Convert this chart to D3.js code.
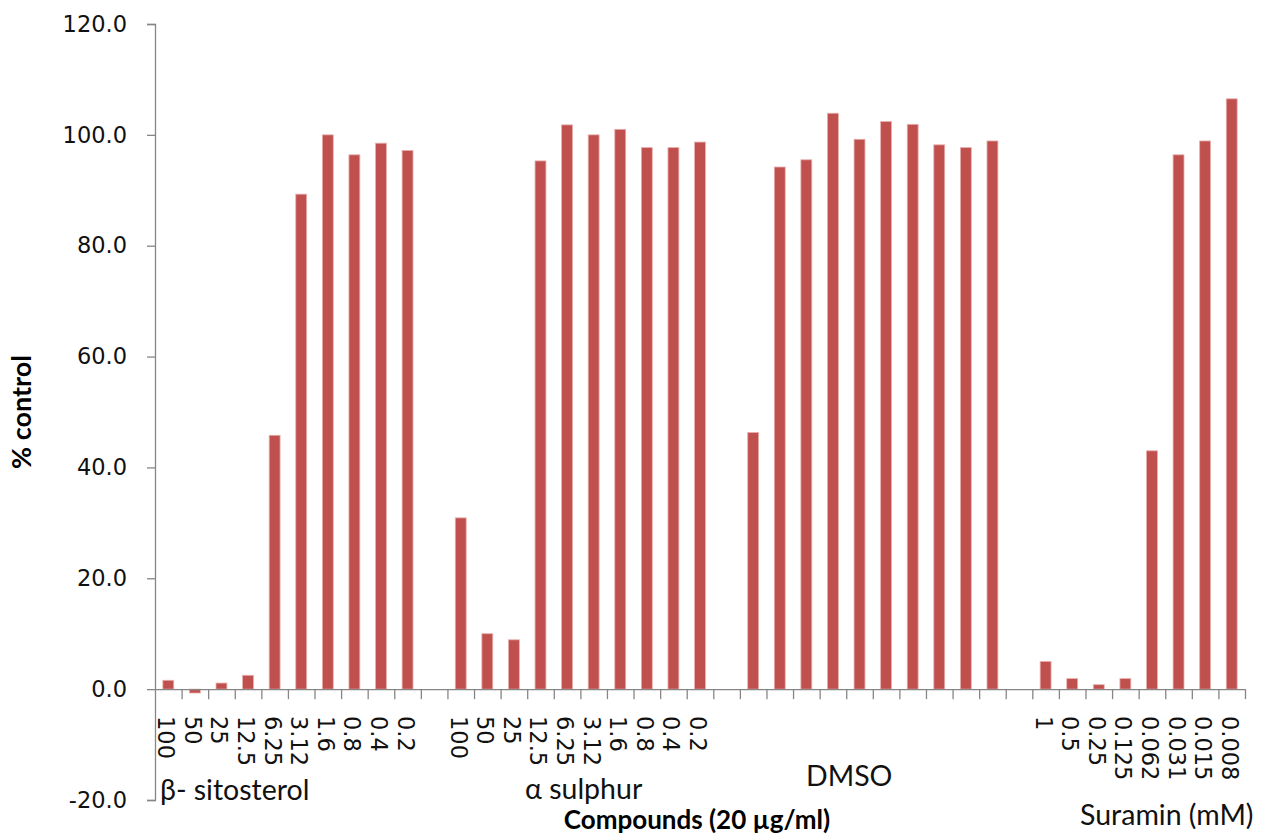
<!DOCTYPE html>
<html><head><meta charset="utf-8">
<script src="https://cdn.jsdelivr.net/npm/d3@7"></script>
<style>body{margin:0;background:#fff}svg{display:block}</style>
</head><body>
<svg id="c" width="1266" height="836"></svg>
<script>
const betaLabels = ["100","50","25","12.5","6.25","3.12","1.6","0.8","0.4","0.2"];
const betaValues = [1.6,-0.7,1.1,2.5,45.8,89.3,100.0,96.4,98.5,97.2];
const alphaLabels = ["100","50","25","12.5","6.25","3.12","1.6","0.8","0.4","0.2"];
const alphaValues = [30.9,10.0,8.9,95.3,101.8,100.0,101.0,97.7,97.7,98.7];
const dmsoLabels = ["","","","","","","","","",""];
const dmsoValues = [46.3,94.2,95.5,103.9,99.2,102.4,101.9,98.2,97.7,98.9];
const suraminLabels = ["1","0.5","0.25","0.125","0.062","0.031","0.015","0.008"];
const suraminValues = [5.0,1.9,0.8,1.9,43.0,96.4,98.9,106.5];
const groupNames = ["β- sitosterol","α sulphur","DMSO","Suramin (mM)"];
const yTicks = [-20,0,20,40,60,80,100,120];
const yTitle = "% control";
const xTitle = "Compounds (20 µg/ml)";

// build slots (one empty slot between groups)
const groups = [[betaLabels,betaValues],[alphaLabels,alphaValues],[dmsoLabels,dmsoValues],[suraminLabels,suraminValues]];
const slots = [];
groups.forEach((g,gi)=>{
  g[0].forEach((l,i)=>slots.push({id:slots.length,label:l,value:g[1][i],group:gi}));
  if(gi<groups.length-1) slots.push({id:slots.length,label:"",value:null,group:-1});
});

const svg = d3.select("#c");
const x = d3.scaleBand().domain(slots.map(d=>d.id)).range([155,1245]).paddingInner(0).paddingOuter(0);
const y = d3.scaleLinear().domain([-20,120]).range([800,24]);
const axisColor = "#868686";
const textColor = "#111";

// bars
const bw = x.bandwidth()*0.41;
svg.append("g").selectAll("rect").data(slots.filter(d=>d.value!==null)).join("rect")
  .attr("x",d=>x(d.id)+x.bandwidth()/2-bw/2)
  .attr("y",d=>y(Math.max(0,d.value)))
  .attr("width",bw)
  .attr("height",d=>Math.abs(y(d.value)-y(0)))
  .attr("fill","#C0504D")
  .attr("stroke","#E8AFAD").attr("stroke-width",0.8);

// y axis
const fmt = d=>d3.format(".1f")(d).replace("−","-");
const gy = svg.append("g").attr("transform","translate(155,0)")
  .call(d3.axisLeft(y).tickValues(yTicks).tickFormat(fmt).tickSize(8).tickPadding(20));
gy.select(".domain").attr("stroke",axisColor).attr("stroke-width",1.3);
gy.selectAll(".tick line").attr("stroke",axisColor).attr("stroke-width",1.3);
gy.selectAll(".tick text").attr("font-family","DejaVu Sans, Verdana, sans-serif").attr("font-size",22.5).attr("fill",textColor);

// x axis: line at 0 with ticks on slot boundaries
const xb = d3.scaleLinear().domain([0,slots.length]).range([155,1245]);
const gx = svg.append("g").attr("transform",`translate(0,${y(0)})`)
  .call(d3.axisBottom(xb).tickValues(d3.range(1,slots.length+1)).tickFormat("").tickSize(10).tickSizeOuter(0));
gx.select(".domain").attr("stroke",axisColor).attr("stroke-width",1.3);
gx.selectAll(".tick line").attr("stroke",axisColor).attr("stroke-width",1.3);

// rotated category labels
svg.append("g").selectAll("text").data(slots.filter(d=>d.label!=="")).join("text")
  .attr("transform",d=>`translate(${x(d.id)+x.bandwidth()/2-2},716) rotate(90)`)
  .attr("dominant-baseline","central")
  .attr("font-family","DejaVu Sans, Verdana, sans-serif").attr("font-size",22.5)
  .attr("fill",textColor).text(d=>d.label);

// group labels
const glPos = [[160,800],[525,799],[806,786],[1080,825]];
svg.append("g").selectAll("text").data(groupNames).join("text")
  .attr("x",(d,i)=>glPos[i][0]).attr("y",(d,i)=>glPos[i][1])
  .attr("font-family","Lato, Open Sans, sans-serif").attr("font-size",28.5)
  .attr("fill",textColor).text(d=>d);

// axis titles
svg.append("text").attr("x",697).attr("y",829).attr("text-anchor","middle")
  .attr("font-family","Lato, Open Sans, sans-serif").attr("font-weight","bold").attr("font-size",26)
  .attr("fill","#000").text(xTitle);
svg.append("text").attr("transform","translate(31,412) rotate(-90)").attr("text-anchor","middle")
  .attr("font-family","Lato, Open Sans, sans-serif").attr("font-weight","bold").attr("font-size",27)
  .attr("fill","#000").text(yTitle);
</script>
</body></html>
